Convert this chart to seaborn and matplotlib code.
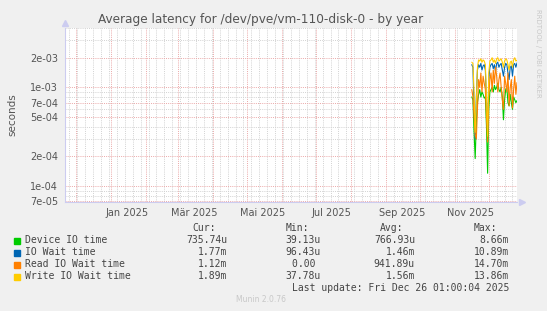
import matplotlib
matplotlib.use('Agg')
import matplotlib.pyplot as plt
import matplotlib.transforms as mtransforms
from matplotlib.ticker import FixedLocator, NullFormatter, FixedFormatter
import seaborn as sns
import pandas as pd
import numpy as np

# ---------------- data ----------------
dates = pd.date_range('2025-11-16 01:00', '2025-12-26 01:00', freq='D')

device_ms = [0.80, 0.75, 0.35, 0.19, 0.45, 0.70, 0.85, 0.95, 0.80, 0.90,
             0.85, 0.78, 0.80, 0.40, 0.135, 0.60, 0.90, 0.95, 1.00, 0.90,
             1.05, 0.95, 1.00, 1.10, 0.95, 0.90, 1.00, 0.80, 0.47, 0.75,
             0.95, 1.00, 0.70, 0.65, 0.85, 0.70, 0.60, 0.80, 0.75, 0.70, 0.736]
iowait_ms = [1.70, 1.60, 0.60, 0.30, 0.80, 1.50, 1.70, 1.60, 1.75, 1.50,
             1.65, 1.70, 1.50, 0.70, 0.35, 1.20, 1.60, 1.70, 1.75, 1.55,
             1.70, 1.45, 1.75, 1.80, 1.60, 1.70, 1.75, 1.50, 1.30, 1.60,
             1.75, 1.70, 1.40, 1.20, 1.60, 1.65, 1.30, 1.70, 1.75, 1.60, 1.77]
read_ms = [0.95, 0.80, 0.50, 0.33, 0.30, 0.60, 1.20, 1.00, 1.40, 0.90,
           1.30, 1.10, 0.95, 0.50, 0.28, 0.80, 1.20, 1.40, 0.90, 1.50,
           1.10, 1.60, 1.30, 0.90, 1.20, 1.40, 1.00, 0.75, 0.60, 1.30,
           1.10, 0.90, 1.40, 0.65, 1.00, 1.20, 0.62, 0.95, 1.30, 0.85, 1.12]
write_ms = [1.80, 1.75, 0.90, 0.35, 0.70, 1.60, 1.90, 1.85, 1.95, 1.80,
            1.90, 1.85, 1.70, 0.80, 0.32, 1.40, 1.85, 1.90, 2.00, 1.80,
            1.90, 1.75, 1.95, 2.00, 1.85, 1.90, 1.95, 1.80, 1.60, 1.85,
            1.95, 1.90, 1.70, 1.50, 1.80, 1.85, 1.60, 1.90, 2.00, 1.85, 1.89]

series_names = ['Device IO time', 'IO Wait time', 'Read IO Wait time', 'Write IO Wait time']
series_colors = ['#00CC00', '#0066B3', '#FF8000', '#FFCC00']
cur_vals = ['735.74u', '1.77m', '1.12m', '1.89m']
min_vals = ['39.13u', '96.43u', '0.00 ', '37.78u']
avg_vals = ['766.93u', '1.46m', '941.89u', '1.56m']
max_vals = ['8.66m', '10.89m', '14.70m', '13.86m']

y_major = [7e-5, 1e-4, 2e-4, 5e-4, 7e-4, 1e-3, 2e-3]
y_minor = [8e-5, 9e-5, 3e-4, 4e-4, 6e-4, 8e-4, 9e-4, 3e-3, 4e-3]
x_label_text = ['Jan 2025', 'Mär 2025', 'Mai 2025', 'Jul 2025', 'Sep 2025', 'Nov 2025']
x_label_dates = pd.to_datetime(['2025-01-15', '2025-03-15', '2025-05-15',
                                '2025-07-15', '2025-09-15', '2025-11-15'])
end_time = pd.Timestamp('2025-12-26 01:00')
start_time = end_time - pd.Timedelta(days=400)
month_starts = pd.date_range('2024-12-01', '2025-12-01', freq='MS')
week_starts = pd.date_range('2024-11-25', '2025-12-26', freq='7D')

# ---------------- figure ----------------
sns.set_style('white')
plt.rcParams['font.family'] = ['DejaVu Sans']

W, H = 547, 311
fig = plt.figure(figsize=(W / 100, H / 100), dpi=100, facecolor='#F0F0F0')
L, R, T, B = 65, 517, 28, 202
ax = fig.add_axes([L / W, 1 - B / H, (R - L) / W, (B - T) / H])
ax.set_facecolor('white')

df = pd.DataFrame({
    'date': list(dates) * 4,
    'value': np.concatenate([np.array(device_ms), np.array(iowait_ms),
                             np.array(read_ms), np.array(write_ms)]) * 1e-3,
    'series': sum([[n] * len(dates) for n in series_names], []),
})
for name, col in zip(series_names, series_colors):
    sub = df[df['series'] == name]
    sns.lineplot(data=sub, x='date', y='value', color=col, lw=0.8, ax=ax,
                 legend=False, estimator=None, zorder=5)

ax.set_yscale('log')
ax.set_ylim(6.9e-5, 4.0e-3)
ax.set_xlim(start_time, end_time)

# grid
grid_minor = dict(color='#D2D2D2', lw=0.7, ls=(0, (1, 1.2)), zorder=1)
grid_major = dict(color='#EBA8A8', lw=0.7, ls=(0, (1, 1.2)), zorder=2)
ax.yaxis.set_major_locator(FixedLocator(y_major))
ax.yaxis.set_major_formatter(FixedFormatter([f'{v:.0e}' for v in y_major]))
ax.yaxis.set_minor_locator(FixedLocator(y_minor))
ax.yaxis.set_minor_formatter(NullFormatter())
ax.xaxis.set_major_locator(FixedLocator(matplotlib.dates.date2num(month_starts)))
ax.xaxis.set_major_formatter(NullFormatter())
ax.xaxis.set_minor_locator(FixedLocator(matplotlib.dates.date2num(week_starts)))
ax.xaxis.set_minor_formatter(NullFormatter())
ax.grid(True, which='minor', axis='both', **grid_minor)
ax.grid(True, which='major', axis='both', **grid_major)
ax.set_axisbelow(True)

ax.tick_params(axis='both', which='major', length=2, width=0.7, color='#EBA8A8',
               labelsize=7, labelcolor='#555555', pad=3, direction='out')
ax.tick_params(axis='both', which='minor', length=2, width=0.7, color='#D2D2D2', direction='out')
ax.tick_params(axis='x', which='both', direction='in')

for s in ['top', 'right']:
    ax.spines[s].set_visible(False)
for s in ['left', 'bottom']:
    ax.spines[s].set_color('#CCCCF0')
    ax.spines[s].set_linewidth(0.8)
ax.set_xlabel('')
ax.set_ylabel('seconds', fontsize=7.5, color='#555555')
ax.yaxis.set_label_coords((17 - L) / (R - L), 0.5)

# arrows on axes
ax.plot([1.012], [0], marker='>', ms=4, color='#CCCCF0', transform=ax.transAxes, clip_on=False)
ax.plot([0], [1.03], marker='^', ms=4, color='#CCCCF0', transform=ax.transAxes, clip_on=False)

# x labels (mid-month)
trans = mtransforms.blended_transform_factory(ax.transData, ax.transAxes)
for d, t in zip(x_label_dates, x_label_text):
    ax.text(d, -0.062, t, transform=trans, ha='center', va='center',
            fontsize=7, color='#555555')

# title
fig.text(261 / W, 1 - 19 / H, 'Average latency for /dev/pve/vm-110-disk-0 - by year',
         ha='center', va='center', fontsize=8.7, color='#555555')
fig.text(538 / W, 1 - 53 / H, 'RRDTOOL / TOBI OETIKER', rotation=270,
         ha='center', va='center', fontsize=5, color='#C8C8C8')

# legend block
mono = dict(family='DejaVu Sans Mono', fontsize=7, color='#444444')
hy = 228
fig.text(215.7 / W, 1 - hy / H, 'Cur:', ha='right', va='center', **mono)
fig.text(309 / W, 1 - hy / H, 'Min:', ha='right', va='center', **mono)
fig.text(403 / W, 1 - hy / H, 'Avg:', ha='right', va='center', **mono)
fig.text(497 / W, 1 - hy / H, 'Max:', ha='right', va='center', **mono)
rows_y = [240, 252, 264, 276]
for i, name in enumerate(series_names):
    y = 1 - rows_y[i] / H
    fig.patches.append(plt.Rectangle((14 / W, 1 - (rows_y[i] + 3.5) / H), 6 / W, 6 / H,
                                     transform=fig.transFigure, color=series_colors[i]))
    fig.text(25 / W, y, name, ha='left', va='center', **mono)
    fig.text(227.7 / W, y, cur_vals[i], ha='right', va='center', **mono)
    fig.text(321 / W, y, min_vals[i], ha='right', va='center', **mono)
    fig.text(415 / W, y, avg_vals[i], ha='right', va='center', **mono)
    fig.text(509 / W, y, max_vals[i], ha='right', va='center', **mono)
fig.text(509 / W, 1 - 288 / H, 'Last update: Fri Dec 26 01:00:04 2025',
         ha='right', va='center', **mono)
fig.text(261 / W, 1 - 300 / H, 'Munin 2.0.76', ha='center', va='center',
         fontsize=5.5, color='#C8C8C8')

fig.savefig('out.png', dpi=100, facecolor=fig.get_facecolor())
